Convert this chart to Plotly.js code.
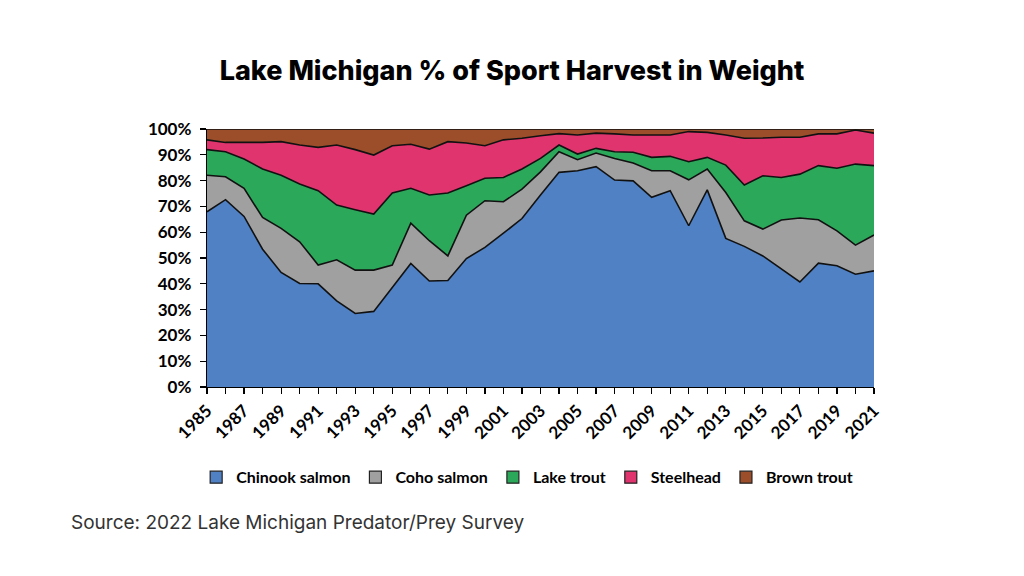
<!DOCTYPE html>
<html>
<head>
<meta charset="utf-8">
<script src="https://cdn.plot.ly/plotly-3.0.1.min.js"></script>
<style>html,body{margin:0;padding:0;background:#fff;}#chart{width:1024px;height:576px;}</style>
</head>
<body>
<div id="chart"></div>
<script>
const years = [1985,1986,1987,1988,1989,1990,1991,1992,1993,1994,1995,1996,1997,1998,1999,2000,2001,2002,2003,2004,2005,2006,2007,2008,2009,2010,2011,2012,2013,2014,2015,2016,2017,2018,2019,2020,2021];
const chinook = [67.9,72.6,66.1,53.4,44.4,40.1,40.0,33.4,28.5,29.3,38.6,47.9,41.1,41.3,49.8,54.1,59.6,65.3,74.4,83.2,83.8,85.4,80.2,79.9,73.5,76.1,62.5,76.4,57.6,54.5,50.8,45.9,40.7,48.0,47.0,43.7,45.0];
const coho = [14.2,8.9,10.9,12.3,17.1,16.2,7.3,15.9,16.8,16.0,8.7,15.6,15.6,9.5,16.8,18.1,12.2,11.4,9.0,8.0,4.3,5.3,8.4,6.9,10.3,7.7,17.8,8.1,17.8,9.9,10.4,18.8,24.8,16.8,13.5,11.3,13.9];
const lakeTrout = [9.9,9.7,11.4,18.8,20.6,22.4,28.8,21.2,23.4,21.7,27.9,13.5,17.7,24.4,11.4,8.7,9.4,7.8,5.2,2.6,2.2,1.8,2.6,4.2,5.2,5.6,7.0,4.5,10.6,13.9,20.7,16.5,17.0,21.0,24.3,31.4,26.9];
const steelhead = [3.8,3.6,6.4,10.3,13.0,15.1,16.8,23.3,23.3,22.9,18.3,17.1,17.8,19.9,16.6,12.6,14.6,11.9,8.8,4.4,7.4,5.9,6.9,6.7,8.7,8.3,11.7,9.7,11.7,18.1,14.6,15.6,14.3,12.3,13.3,13.2,12.6];
const brownTrout = [4.2,5.2,5.2,5.2,4.9,6.2,7.1,6.2,8.0,10.1,6.5,5.9,7.8,4.9,5.4,6.5,4.2,3.6,2.6,1.8,2.3,1.6,1.9,2.3,2.3,2.3,1.0,1.3,2.3,3.6,3.5,3.2,3.2,1.9,1.9,0.4,1.6];
const seriesNames = ["Chinook salmon","Coho salmon","Lake trout","Steelhead","Brown trout"];
const seriesColors = ["#4F81C4","#A0A0A0","#2BA85A","#E0346F","#9C4E2B"];
const seriesData = [chinook, coho, lakeTrout, steelhead, brownTrout];
const yTickVals = [0,10,20,30,40,50,60,70,80,90,100];
const yTickText = ["0%","10%","20%","30%","40%","50%","60%","70%","80%","90%","100%"];

const traces = [];
seriesData.forEach((d,i)=>{
  traces.push({
    x: years, y: d, type:'scatter', mode:'lines', stackgroup:'one',
    name: seriesNames[i], showlegend:false,
    line:{color:'#111', width:1.6}, fillcolor: seriesColors[i], hoverinfo:'skip'
  });
});
seriesData.forEach((d,i)=>{
  traces.push({
    x:[null], y:[null], type:'scatter', mode:'markers', name: seriesNames[i],
    marker:{symbol:'square', size:12, color: seriesColors[i], line:{color:'#222', width:1.2}},
    showlegend:true
  });
});

const layout = {
  width:1024, height:576,
  paper_bgcolor:'#fff', plot_bgcolor:'#fff',
  margin:{l:207, r:150, t:129, b:189},
  title:{text:'Lake Michigan % of Sport Harvest in Weight', x:0.5, xref:'container', xanchor:'center', y:0.878, yref:'container', yanchor:'middle',
    font:{family:'Inter, sans-serif', size:27, weight:800, color:'#000'}},
  xaxis:{range:[1985,2021], dtick:2, tick0:1985, tickangle:-45, ticks:'outside', ticklen:6, tickcolor:'#000', tickwidth:1.2,
    showline:true, linecolor:'#000', linewidth:1.2, showgrid:false, zeroline:false,
    tickfont:{family:'Lato, sans-serif', size:17, weight:700, color:'#000'},
    minor:{dtick:1, tick0:1985, ticks:'outside', ticklen:6, tickcolor:'#000', tickwidth:1.2, showgrid:false}},
  yaxis:{range:[0,100], tickvals:yTickVals, ticktext:yTickText, ticks:'outside', ticklen:6, tickcolor:'#000', tickwidth:1.2,
    showline:true, linecolor:'#000', linewidth:1.2, showgrid:false, zeroline:false, ticklabelstandoff:5,
    tickfont:{family:'Lato, sans-serif', size:17, weight:700, color:'#000'}},
  legend:{orientation:'h', x:0.48, xanchor:'center', y:-0.35, yanchor:'middle',
    font:{family:'Lato, sans-serif', size:16, weight:700, color:'#000'}, itemwidth:30, traceorder:'normal'},
  showlegend:true,
  annotations:[{text:'Source: 2022 Lake Michigan Predator/Prey Survey', xref:'paper', yref:'paper', x:-0.207, xanchor:'left', y:-0.527, yanchor:'middle',
    showarrow:false, font:{family:'Inter, sans-serif', size:19, color:'#333'}}]
};
Plotly.newPlot('chart', traces, layout, {staticPlot:true, displayModeBar:false});
</script>
</body>
</html>
